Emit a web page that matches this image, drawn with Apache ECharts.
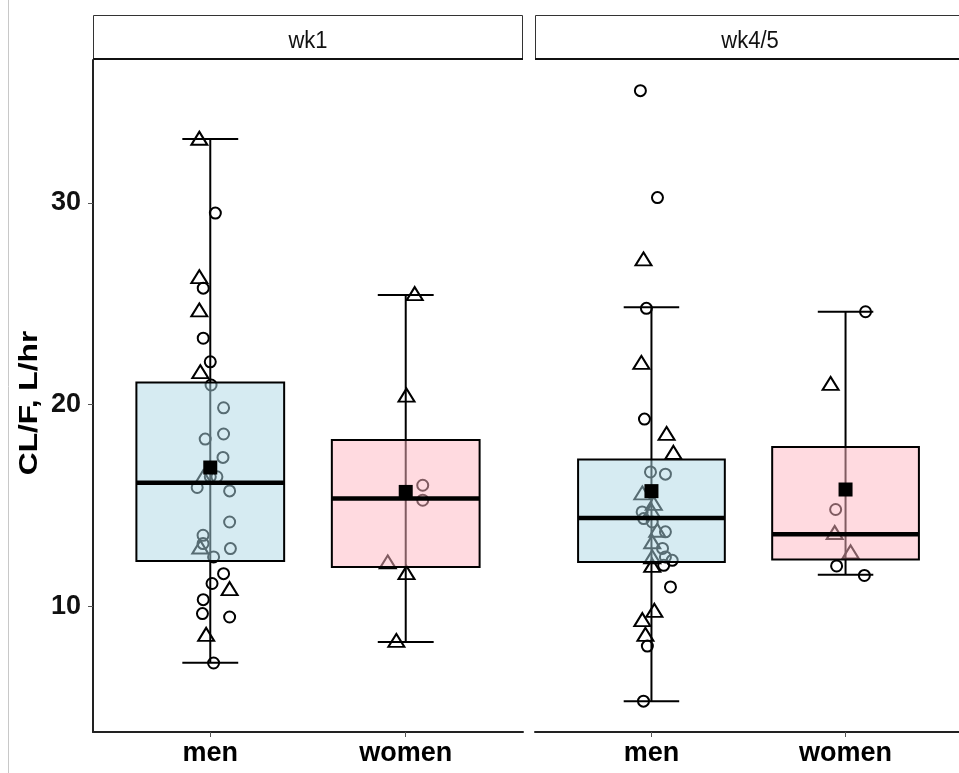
<!DOCTYPE html>
<html><head><meta charset="utf-8">
<script src="https://cdn.jsdelivr.net/npm/echarts@6/dist/echarts.min.js"></script>
<style>html,body{margin:0;padding:0;background:#fff}#c{width:959px;height:773px}</style>
</head><body><div id="c"></div>
<script>
const categories = ['men', 'women'];
const panels = ['wk1', 'wk4/5'];
const yTicks = [10, 20, 30];
const yTitle = 'CL/F, L/hr';

// box stats per category: [min, q1, median, q3, max]
const wk1Box = [[7.2, 12.25, 16.12, 21.1, 33.16], [8.23, 11.95, 15.34, 18.24, 25.43]];
const wk45Box = [[5.3, 12.2, 14.38, 17.28, 24.82], [11.57, 12.32, 13.57, 17.9, 24.6]];
const wk1Mean = [16.88, 15.67];
const wk45Mean = [15.71, 15.79];

// individual observations (value, horizontal jitter in category units, shape: o circle / t triangle)
const wk1MenValues = [33.2, 29.49, 26.34, 25.77, 24.69, 23.29, 22.12, 21.63, 20.97, 19.84, 18.54, 18.29, 17.38, 16.42, 16.42, 16.42, 15.89, 15.72, 14.18, 13.52, 13.11, 12.94, 12.86, 12.45, 11.62, 11.13, 10.88, 10.33, 9.64, 9.47, 8.61, 7.19];
const wk1MenJitter = [-0.056, 0.026, -0.056, -0.036, -0.056, -0.036, 0.0, -0.051, 0.004, 0.068, 0.068, -0.026, 0.065, -0.036, 0.0, 0.034, -0.067, 0.099, 0.099, -0.037, -0.037, -0.051, 0.103, 0.017, 0.068, 0.009, 0.099, -0.036, -0.04, 0.099, -0.021, 0.017];
const wk1MenShapes = ['t','o','t','o','t','o','o','t','o','o','o','o','o','t','o','o','o','o','o','o','o','t','o','o','o','o','t','o','o','o','t','o'];

const wk1WomenValues = [25.5, 20.47, 16.0, 15.26, 12.2, 11.67, 8.31];
const wk1WomenJitter = [0.046, 0.004, 0.087, 0.087, -0.092, 0.004, -0.048];
const wk1WomenShapes = ['t','t','o','o','t','t','t'];

const wk45MenValues = [35.56, 30.26, 27.22, 24.77, 22.09, 19.28, 18.57, 17.63, 16.66, 16.55, 15.62, 15.1, 14.76, 14.68, 14.35, 14.18, 13.77, 13.69, 13.2, 12.87, 12.45, 12.45, 12.28, 12.03, 12.03, 10.96, 9.8, 9.34, 8.61, 8.03, 5.3];
const wk45MenJitter = [-0.057, 0.031, -0.041, -0.026, -0.052, -0.036, 0.078, 0.113, -0.005, 0.072, -0.047, 0.012, 0.0, -0.048, -0.04, 0.004, 0.03, 0.072, 0.004, 0.057, 0.072, 0.004, 0.107, 0.004, 0.063, 0.098, 0.015, -0.047, -0.031, -0.021, -0.041];
const wk45MenShapes = ['o','o','t','o','t','o','t','t','o','o','t','t','t','o','o','o','t','o','t','o','o','t','o','t','o','o','t','t','t','o','o'];

const wk45WomenValues = [24.6, 21.05, 14.8, 13.66, 12.7, 12.0, 11.53];
const wk45WomenJitter = [0.103, -0.077, -0.051, -0.056, 0.026, -0.046, 0.097];
const wk45WomenShapes = ['o','t','o','t','t','o','o'];

const BOX_HALF = 0.378, CAP_HALF = 0.143;
const FILLS = ['rgba(173,216,230,0.5)', 'rgba(255,182,193,0.5)'];
const FONT = 'Liberation Sans, Arial, sans-serif';

function points(values, jitter, shapes, cat) {
  return values.map((v, i) => ({
    value: [cat + jitter[i], v],
    symbol: shapes[i] === 't' ? 'triangle' : 'circle',
    symbolSize: shapes[i] === 't' ? [16, 13] : 11
  }));
}
function boxData(box) { return box.map((b, i) => [i + 1].concat(b)); }
function meanData(m) { return m.map((v, i) => [i + 1, v]); }

const errRender = (params, api) => {
  const x = api.value(0);
  const lo = api.coord([x, api.value(1)]), hi = api.coord([x, api.value(5)]);
  const l1 = api.coord([x - CAP_HALF, api.value(1)]), r1 = api.coord([x + CAP_HALF, api.value(1)]);
  const l2 = api.coord([x - CAP_HALF, api.value(5)]), r2 = api.coord([x + CAP_HALF, api.value(5)]);
  const st = { stroke: '#000', lineWidth: 2 };
  return { type: 'group', children: [
    { type: 'line', shape: { x1: lo[0], y1: lo[1], x2: hi[0], y2: hi[1] }, style: st },
    { type: 'line', shape: { x1: l1[0], y1: l1[1], x2: r1[0], y2: r1[1] }, style: st },
    { type: 'line', shape: { x1: l2[0], y1: l2[1], x2: r2[0], y2: r2[1] }, style: st }
  ]};
};
const boxRender = (params, api) => {
  const x = api.value(0);
  const a = api.coord([x - BOX_HALF, api.value(2)]);
  const b = api.coord([x + BOX_HALF, api.value(4)]);
  const m1 = api.coord([x - BOX_HALF, api.value(3)]), m2 = api.coord([x + BOX_HALF, api.value(3)]);
  return { type: 'group', children: [
    { type: 'rect', shape: { x: a[0], y: b[1], width: b[0] - a[0], height: a[1] - b[1] },
      style: { fill: FILLS[x - 1], stroke: '#000', lineWidth: 2 } },
    { type: 'line', shape: { x1: m1[0], y1: m1[1], x2: m2[0], y2: m2[1] },
      style: { stroke: '#000', lineWidth: 4.5 } }
  ]};
};

const grids = [
  { left: 93, top: 60, width: 430, height: 672 },
  { left: 535, top: 60, width: 427, height: 672 }
];
const yMin = 3.77, yMax = 37.08;

const xAxes = grids.map((g, i) => ({
  type: 'value', gridIndex: i, min: 0.4, max: 2.6,
  axisLine: { show: true, onZero: false, lineStyle: { color: '#222', width: 2 } },
  axisTick: { show: true, customValues: [1, 2], length: 5, lineStyle: { color: '#555', width: 1 } },
  axisLabel: { show: true, customValues: [1, 2], formatter: v => categories[Math.round(v) - 1],
    color: '#000', fontSize: 27, fontWeight: 'bold', fontFamily: FONT, margin: 8 },
  splitLine: { show: false }
}));
const yAxes = grids.map((g, i) => ({
  type: 'value', gridIndex: i, min: yMin, max: yMax, show: i === 0,
  axisLine: { show: true, lineStyle: { color: '#222', width: 2 } },
  axisTick: { show: true, customValues: yTicks, length: 5, lineStyle: { color: '#555', width: 1 } },
  axisLabel: { show: true, customValues: yTicks, color: '#111', fontSize: 27, fontWeight: 'bold', fontFamily: FONT, margin: 12 },
  splitLine: { show: false }
}));

const series = [];
[[wk1Box, wk1Mean], [wk45Box, wk45Mean]].forEach((p, i) => {
  series.push({ type: 'custom', xAxisIndex: i, yAxisIndex: i, z: 1, renderItem: errRender, data: boxData(p[0]), silent: true });
});
const pts = [
  [points(wk1MenValues, wk1MenJitter, wk1MenShapes, 1).concat(points(wk1WomenValues, wk1WomenJitter, wk1WomenShapes, 2)), 0],
  [points(wk45MenValues, wk45MenJitter, wk45MenShapes, 1).concat(points(wk45WomenValues, wk45WomenJitter, wk45WomenShapes, 2)), 1]
];
pts.forEach(([d, i]) => series.push({ type: 'scatter', xAxisIndex: i, yAxisIndex: i, z: 2, data: d,
  itemStyle: { color: 'rgba(0,0,0,0)', borderColor: '#000', borderWidth: 2, opacity: 1 }, silent: true }));
[[wk1Box, wk1Mean], [wk45Box, wk45Mean]].forEach((p, i) => {
  series.push({ type: 'custom', xAxisIndex: i, yAxisIndex: i, z: 3, renderItem: boxRender, data: boxData(p[0]), silent: true });
  series.push({ type: 'scatter', xAxisIndex: i, yAxisIndex: i, z: 4, data: meanData(p[1]), symbol: 'rect', symbolSize: 14,
    itemStyle: { color: '#000', opacity: 1 }, silent: true });
});

const graphic = [
  { type: 'line', shape: { x1: 8.5, y1: 0, x2: 8.5, y2: 773 }, style: { stroke: '#c8c8c8', lineWidth: 1 } },
  { type: 'text', x: 30, y: 403, rotation: Math.PI / 2, scaleX: 1.22,
    style: { text: yTitle, fontSize: 26, fontWeight: 'bold', fontFamily: FONT, fill: '#000', align: 'center', verticalAlign: 'middle' } }
];
grids.forEach((g, i) => {
  graphic.push({ type: 'rect', shape: { x: g.left + 0.5, y: 15.5, width: g.width - 1, height: 43 },
    style: { fill: '#fff', stroke: '#333', lineWidth: 1 } });
  graphic.push({ type: 'line', shape: { x1: g.left, y1: 59, x2: g.left + g.width, y2: 59 }, style: { stroke: '#111', lineWidth: 2 } });
  graphic.push({ type: 'text', x: g.left + 215, y: 41, scaleY: 1.1,
    style: { text: panels[i], fontSize: 22, fontFamily: FONT, fill: '#111', align: 'center', verticalAlign: 'middle' } });
});

const chart = echarts.init(document.getElementById('c'), null, { renderer: 'canvas' });
chart.setOption({
  animation: false, backgroundColor: '#fff',
  grid: grids.map(g => Object.assign({ containLabel: false, outerBoundsMode: 'none' }, g)),
  xAxis: xAxes, yAxis: yAxes, series, graphic
});
</script></body></html>
